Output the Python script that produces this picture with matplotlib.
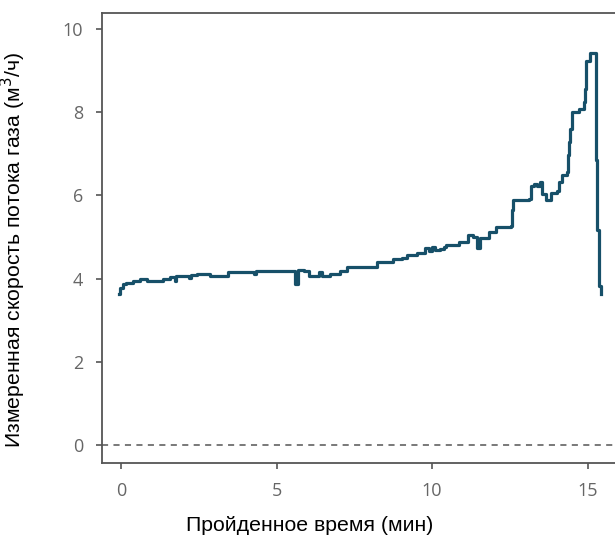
import matplotlib
matplotlib.use("Agg")
import matplotlib.pyplot as plt

time_min = [-0.06, -0.03, 0.06, 0.16, 0.39, 0.61, 0.83, 1.35, 1.57, 1.73, 1.77, 1.89,
            2.20, 2.24, 2.44, 2.86, 3.27, 3.43, 4.24, 4.27, 4.33, 5.52, 5.60, 5.68,
            5.87, 6.03, 6.26, 6.35, 6.45, 6.71, 7.03, 7.25, 8.09, 8.22, 8.73, 9.05,
            9.18, 9.53, 9.76, 9.91, 10.00, 10.10, 10.24, 10.37, 10.46, 10.88, 11.14,
            11.33, 11.46, 11.55, 11.84, 12.07, 12.39, 12.55, 12.56, 12.61, 13.13, 13.19,
            13.29, 13.38, 13.48, 13.54, 13.67, 13.83, 14.02, 14.08, 14.18, 14.35, 14.38,
            14.41, 14.44, 14.51, 14.73, 14.89, 14.92, 14.96, 15.08, 15.28, 15.29, 15.36,
            15.37, 15.42]
flow = [3.64, 3.78, 3.88, 3.90, 3.93, 3.98, 3.95, 3.98, 4.04, 3.94, 4.05, 4.07,
        4.02, 4.08, 4.10, 4.05, 4.07, 4.16, 4.16, 4.10, 4.17, 4.17, 3.88, 4.21,
        4.17, 4.05, 4.07, 4.16, 4.07, 4.12, 4.17, 4.28, 4.28, 4.39, 4.46, 4.49,
        4.56, 4.61, 4.74, 4.67, 4.75, 4.68, 4.72, 4.76, 4.81, 4.89, 5.04,
        5.00, 4.73, 4.97, 5.12, 5.24, 5.25, 5.27, 5.65, 5.89, 5.92, 6.22,
        6.26, 6.22, 6.31, 6.04, 5.89, 6.06, 6.10, 6.31, 6.50, 6.55, 6.96,
        7.28, 7.59, 8.01, 8.08, 8.25, 8.56, 9.22, 9.41, 6.86, 5.17, 5.02,
        3.81, 3.64]

x_ticks = [0, 5, 10, 15]
y_ticks = [0, 2, 4, 6, 8, 10]

fig = plt.figure(figsize=(6.15, 5.41), dpi=100)
ax = fig.add_axes([0.1659, 0.1436, 0.834, 0.8323])

ax.axhline(0, color="#555555", lw=1.1, ls=(0, (4, 3.5)), zorder=1)
ax.plot(time_min, flow, color="#175069", lw=2.3, drawstyle="steps-post",
        solid_joinstyle="round", zorder=3)

ax.set_xlim(-0.61, 15.88)
ax.set_ylim(-0.44, 10.38)
ax.set_xticks(x_ticks)
ax.set_yticks(y_ticks)

for side in ["left", "top", "bottom"]:
    ax.spines[side].set_color("#555555")
    ax.spines[side].set_linewidth(1.3)
ax.spines["right"].set_visible(False)

ax.tick_params(axis="both", direction="out", length=4.5, width=1.2, color="#555555",
               labelcolor="#666666", labelsize=13, pad=9)
for lab in ax.get_xticklabels() + ax.get_yticklabels():
    lab.set_fontfamily("Open Sans")

ax.set_xlabel("Пройденное время (мин)", fontsize=15.3, family="Liberation Sans", color="black")
ax.xaxis.set_label_coords(0.405, -0.117)
ax.set_ylabel("Измеренная скорость потока газа (м$^3$/ч)", fontsize=15.3,
              family="Liberation Sans", color="black")
ax.yaxis.set_label_coords(-0.144, 0.474)

plt.savefig("out.png", dpi=100)
